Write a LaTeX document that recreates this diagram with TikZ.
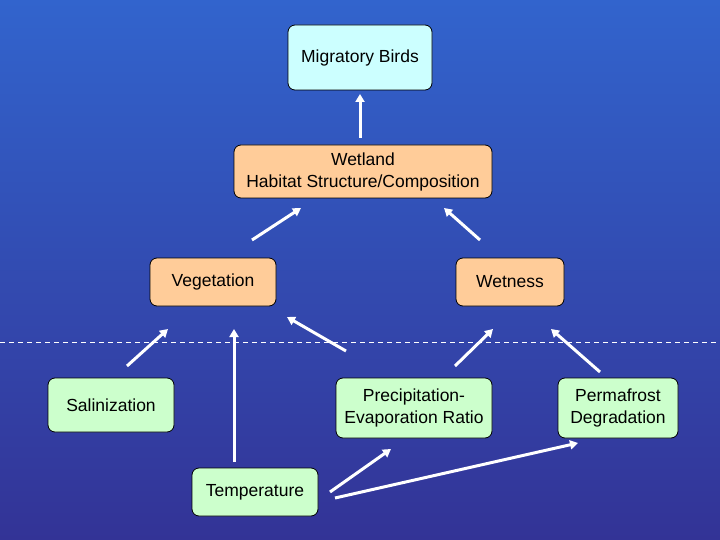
\documentclass[tikz,border=0pt]{standalone}
\usepackage{fontspec}
\setmainfont{Liberation Sans}
\usetikzlibrary{arrows.meta}
\definecolor{bgtop}{RGB}{50,100,205}
\definecolor{bgbot}{RGB}{51,51,150}
\definecolor{cyanbox}{RGB}{204,255,255}
\definecolor{peach}{RGB}{255,204,153}
\definecolor{mint}{RGB}{204,255,204}
\begin{document}
\begin{tikzpicture}[x=1pt,y=-1pt,
  box/.style={draw=black, line width=0.8pt, rounded corners=7pt, inner sep=0pt, align=center, font=\fontsize{17.5}{22}\selectfont},
  arr/.style={draw=white, line width=3pt, -{Triangle[length=8pt,width=9pt]}}]
\shade[top color=bgtop,bottom color=bgbot] (0,0) rectangle (720,540);
\useasboundingbox (0,0) rectangle (720,540);
\coordinate (dl) at (0,342);
\coordinate (dr) at (720,342);
\draw[white, line width=0.8pt, dash pattern=on 5pt off 4pt] (dl) -- (dr);

\node[box, fill=cyanbox, minimum width=144pt, minimum height=65pt] (birds) at (360,57.5) {\raisebox{-2pt}{Migratory Birds}};
\node[box, fill=peach, minimum width=258pt, minimum height=53pt] (wetland) at (363,171.5) {Wetland\\Habitat Structure/Composition};
\node[box, fill=peach, minimum width=126pt, minimum height=48pt] (veg) at (213,282) {\raisebox{-2pt}{Vegetation}};
\node[box, fill=peach, minimum width=108pt, minimum height=48pt] (wet) at (510,282) {\raisebox{-2pt}{Wetness}};
\node[box, fill=mint, minimum width=126pt, minimum height=54pt] (sal) at (111,405) {\raisebox{-2pt}{Salinization}};
\node[box, fill=mint, minimum width=156pt, minimum height=60pt] (pe) at (414,408) {Precipitation-\\Evaporation Ratio};
\node[box, fill=mint, minimum width=120pt, minimum height=60pt] (pf) at (618,408) {Permafrost\\Degradation};
\node[box, fill=mint, minimum width=126pt, minimum height=48pt] (temp) at (255,492) {\raisebox{-2pt}{Temperature}};

% arrow end points
\coordinate (a1s) at (360,138); \coordinate (a1e) at (360,94);
\coordinate (a2s) at (252,240); \coordinate (a2e) at (301,208);
\coordinate (a3s) at (480,240); \coordinate (a3e) at (444,208);
\coordinate (a4s) at (127,366); \coordinate (a4e) at (168,329);
\coordinate (a5s) at (234,462); \coordinate (a5e) at (234,329);
\coordinate (a6s) at (346,351); \coordinate (a6e) at (287,317);
\coordinate (a7s) at (455,366); \coordinate (a7e) at (493,329);
\coordinate (a8s) at (600,372); \coordinate (a8e) at (551,329);
\coordinate (a9s) at (330,492); \coordinate (a9e) at (391,449);
\coordinate (a10s) at (335,498); \coordinate (a10e) at (578,443);

\draw[arr] (a1s) -- (a1e);
\draw[arr] (a2s) -- (a2e);
\draw[arr] (a3s) -- (a3e);
\draw[arr] (a4s) -- (a4e);
\draw[arr] (a5s) -- (a5e);
\draw[arr] (a6s) -- (a6e);
\draw[arr] (a7s) -- (a7e);
\draw[arr] (a8s) -- (a8e);
\draw[arr] (a9s) -- (a9e);
\draw[arr] (a10s) -- (a10e);
\end{tikzpicture}
\end{document}
